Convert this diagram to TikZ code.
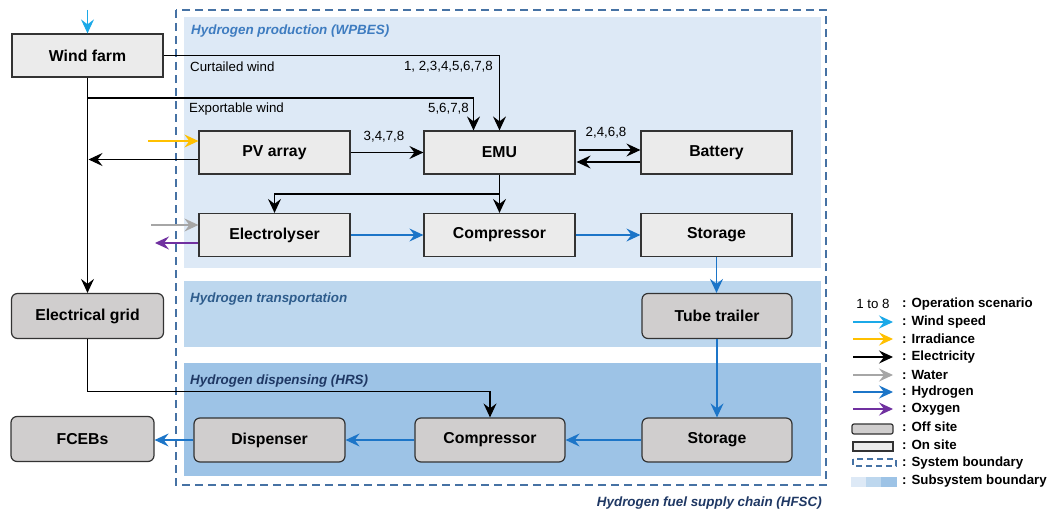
\documentclass[tikz,border=0pt]{standalone}
\usepackage{fontspec}
\setmainfont{Liberation Sans}
\usetikzlibrary{arrows.meta}
\definecolor{windc}{HTML}{1BA9E8}
\definecolor{irrc}{HTML}{FFC000}
\definecolor{waterc}{HTML}{A6A6A6}
\definecolor{h2c}{HTML}{1C75C8}
\definecolor{oxc}{HTML}{7030A0}
\definecolor{onfill}{HTML}{EBEBEB}
\definecolor{offfill}{HTML}{D0CECE}
\definecolor{bndc}{HTML}{4672A4}
\definecolor{regA}{HTML}{DDE9F6}
\definecolor{regB}{HTML}{BDD7EE}
\definecolor{regC}{HTML}{9DC3E6}
\definecolor{titA}{HTML}{3E7CC0}
\definecolor{titB}{HTML}{2E5C8C}
\definecolor{titC}{HTML}{1F3864}
\begin{document}
\begin{tikzpicture}[x=1pt,y=-1pt,
  tip/.style={-{Stealth[length=14pt,width=13pt,inset=5pt]}},
  onsite/.style={draw=black!80, line width=1.2pt, fill=onfill, minimum width=151pt, minimum height=43pt,
     font=\fontsize{15.8}{18}\selectfont\bfseries, inner sep=0pt},
  offsite/.style={onsite, fill=offfill, rounded corners=6pt, minimum height=44pt},
  elec/.style={tip, draw=black, line width=1.2pt},
  hyd/.style={tip, draw=h2c, line width=1.2pt},
  windar/.style={tip, draw=windc, line width=1.2pt},
  irrar/.style={tip, draw=irrc, line width=1.2pt},
  watar/.style={tip, draw=waterc, line width=1.2pt},
  oxar/.style={tip, draw=oxc, line width=1.2pt},
  lbl/.style={inner sep=0pt, font=\fontsize{13.3}{15}\selectfont},
  ttl/.style={inner sep=0pt, anchor=west, font=\fontsize{13.4}{15}\selectfont\bfseries\itshape},
  leg/.style={inner sep=0pt, anchor=west, font=\fontsize{13.3}{15}\selectfont\bfseries}
]
\useasboundingbox (0,0) rectangle (1051,511);
\fill[white] (0,0) rectangle (1051,511);
% regions
\fill[regA] (184,17) rectangle (821,268);
\fill[regB] (184,281) rectangle (821,347);
\fill[regC] (184,363) rectangle (821,476);
\draw[bndc, line width=1.8pt, dash pattern=on 8pt off 5pt] (176,10) rectangle (826,485);
\node[ttl, text=titA] (tA) at (191,31) {Hydrogen production (WPBES)};
\node[ttl, text=titB] (tB) at (190,299) {Hydrogen transportation};
\node[ttl, text=titC] (tC) at (190,381) {Hydrogen dispensing (HRS)};
\node[ttl, anchor=east, text=titC] (tD) at (822,503) {Hydrogen fuel supply chain (HFSC)};

% nodes
\node[onsite] (wind) at (87.5,55.5) {Wind farm};
\node[onsite] (pv) at (274.5,152.5) {PV array};
\node[onsite] (emu) at (499.5,152.5) {EMU};
\node[onsite] (bat) at (716.5,152.5) {Battery};
\node[onsite] (ely) at (274.5,235) {Electrolyser};
\node[onsite] (comp1) at (499.5,235) {Compressor};
\node[onsite] (sto1) at (716.5,235) {Storage};
\node[offsite, minimum width=152pt, minimum height=45pt] (grid) at (87.5,316) {Electrical grid};
\node[offsite, minimum width=150pt, minimum height=45pt] (tube) at (717,316) {Tube trailer};
\node[offsite, minimum width=150pt] (sto2) at (717,440) {Storage};
\node[offsite, minimum width=150pt] (comp2) at (490,440) {Compressor};
\node[offsite] (disp) at (269.5,440) {Dispenser};
\node[offsite, minimum width=143pt, minimum height=45pt] (fceb) at (82.5,439) {FCEBs};

% inputs
\coordinate (ws) at (87.5,10);
\draw[windar] (ws) -- (wind.north);
\coordinate (irr) at (148,141);
\draw[irrar] (irr) -- (pv.west |- irr);
\coordinate (wat) at (151,225);
\draw[watar] (wat) -- (ely.west |- wat);
\coordinate (oxe) at (155,243);
\draw[oxar] (ely.west |- oxe) -- (oxe);

% electricity
\draw[elec] (wind.east) -| (emu.north);
\coordinate (ex) at (87.5,98);
\draw[elec] (ex) -| ([xshift=-26pt]emu.north);
\draw[elec] (wind.south) -- (grid.north);
\coordinate (pvl) at (88.5,159.5);
\draw[elec] ([yshift=-7pt]pv.west) -- (pvl);
\draw[elec] (pv.east) -- (emu.west);
\draw[elec] ([shift={(3pt,2.5pt)}]emu.east) -- ([yshift=2.5pt]bat.west);
\draw[elec] ([yshift=-9.5pt]bat.west) -- ([shift={(1pt,-9.5pt)}]emu.east);
\draw[elec] (emu.south) -- (comp1.north);
\coordinate (br) at (499.5,194);
\draw[elec] (br) -| (ely.north);
\draw[elec] (grid.south) -- ++(0,52) -| (comp2.north);

% hydrogen
\draw[hyd] (ely.east) -- (comp1.west);
\draw[hyd] (comp1.east) -- (sto1.west);
\draw[hyd] (sto1.south) -- (sto1.south |- tube.north);
\draw[hyd] (tube.south) -- (sto2.north);
\draw[hyd] (sto2.west) -- (comp2.east);
\draw[hyd] (comp2.west) -- (disp.east);
\draw[hyd] (disp.west) -- (disp.west -| fceb.east);

% labels
\node[lbl, anchor=west] (l1) at (190,67) {Curtailed wind};
\node[lbl, anchor=east] (l2) at (493,67) {1, 2,3,4,5,6,7,8};
\node[lbl, anchor=west] (l3) at (189,109) {Exportable wind};
\node[lbl, anchor=east] (l4) at (469,109) {5,6,7,8};
\node[lbl] (l5) at (384,137) {3,4,7,8};
\node[lbl] (l6) at (606,133) {2,4,6,8};

% legend
\node[lbl] (k0) at (873,304) {1 to 8};
\coordinate (a1) at (853,322); \coordinate (b1) at (893,322);
\draw[windar] (a1) -- (b1);
\coordinate (a2) at (853,339); \coordinate (b2) at (893,339);
\draw[irrar] (a2) -- (b2);
\coordinate (a3) at (853,357); \coordinate (b3) at (893,357);
\draw[elec] (a3) -- (b3);
\coordinate (a4) at (853,375); \coordinate (b4) at (893,375);
\draw[watar] (a4) -- (b4);
\coordinate (a5) at (853,392); \coordinate (b5) at (893,392);
\draw[hyd] (a5) -- (b5);
\coordinate (a6) at (853,409); \coordinate (b6) at (893,409);
\draw[oxar] (a6) -- (b6);
\draw[draw=black!80, line width=1.2pt, fill=offfill, rounded corners=2pt] (852,424) rectangle (893,434);
\draw[draw=black!80, line width=1.2pt, fill=onfill] (853,442) rectangle (893,451);
\draw[bndc, line width=1.6pt, dash pattern=on 6pt off 4pt] (853,459) rectangle (896,466);
\fill[regA] (851,477) rectangle (866,487);
\fill[regB] (866,477) rectangle (881,487);
\fill[regC] (881,477) rectangle (897,487);
\node[leg] (n0) at (902,304) {: Operation scenario};
\node[leg] (n1) at (902,322) {: Wind speed};
\node[leg] (n2) at (902,339) {: Irradiance};
\node[leg] (n3) at (902,357) {: Electricity};
\node[leg] (n4) at (902,375) {: Water};
\node[leg] (n5) at (902,392) {: Hydrogen};
\node[leg] (n6) at (902,409) {: Oxygen};
\node[leg] (n7) at (902,427) {: Off site};
\node[leg] (n8) at (902,445) {: On site};
\node[leg] (n9) at (902,463) {: System boundary};
\node[leg] (n10) at (902,481) {: Subsystem boundary};
\end{tikzpicture}
\end{document}
